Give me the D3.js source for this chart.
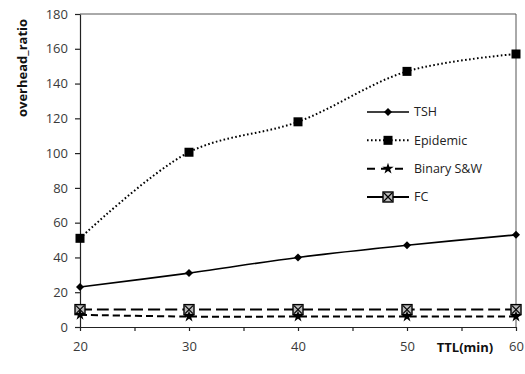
<!DOCTYPE html>
<html lang="en">
<head>
  <meta charset="UTF-8">
  <title>overhead_ratio vs TTL</title>
  <style>
    body { margin: 0; background: #fff; }
    svg { display: block; }
    .tick text { font-family: "Open Sans", sans-serif; font-size: 13px; fill: #3a3a3a; }
    .axis-title { font-family: "Open Sans", sans-serif; font-size: 13px; font-weight: bold; fill: #111; }
    .legend text { font-family: "Open Sans", sans-serif; font-size: 12.5px; fill: #222; }
  </style>
  <script src="https://d3js.org/d3.v7.min.js"></script>
</head>
<body>
  <svg width="525" height="374"></svg>
  <script>
    const ttl = [20, 30, 40, 50, 60];
    const tsh = [23, 31, 40, 47, 53];
    const epidemic = [51, 100.5, 118, 147, 157];
    const binarySW = [7, 6, 6, 6, 6];
    const fc = [10, 10, 10, 10, 10];
    const yTicks = [0, 20, 40, 60, 80, 100, 120, 140, 160, 180];
    const xTicks = [20, 30, 40, 50, 60];

    const series = [
      {name: "TSH", values: tsh, dash: null, legendDash: null, width: 1.6, marker: "diamond"},
      {name: "Epidemic", values: epidemic, dash: "1.6,2.4", legendDash: "1.6,2.4", width: 2, marker: "square"},
      {name: "Binary S&W", values: binarySW, dash: "7,4", legendDash: "8,6", width: 2, marker: "star"},
      {name: "FC", values: fc, dash: "12,5", legendDash: null, width: 2, marker: "xbox"}
    ];

    const margin = {top: 14, right: 9, bottom: 47, left: 80};
    const width = 525, height = 374;

    const svg = d3.select("svg");

    const x = d3.scaleLinear().domain([20, 60]).range([margin.left, width - margin.right]);
    const y = d3.scaleLinear().domain([0, 180]).range([height - margin.bottom, margin.top]);

    // frame (top + right)
    svg.append("path")
      .attr("d", `M${x(20)},${y(180)}H${x(60)}V${y(0)}`)
      .attr("fill", "none")
      .attr("stroke", "#555")
      .attr("stroke-width", 1);

    const xAxis = svg.append("g")
      .attr("transform", `translate(0,${y(0)})`)
      .call(d3.axisBottom(x).tickValues(d3.range(20, 61, 5)).tickSize(4).tickSizeOuter(0)
        .tickFormat(d => xTicks.includes(d) ? d : ""));
    xAxis.select(".domain").attr("stroke", "#222").attr("stroke-width", 1.2);
    xAxis.selectAll(".tick line").attr("stroke", "#222").attr("stroke-width", 1.2);
    xAxis.selectAll(".tick text").attr("dy", "1.3em");

    const yAxis = svg.append("g")
      .attr("transform", `translate(${x(20)},0)`)
      .call(d3.axisLeft(y).tickValues(yTicks).tickSize(5).tickSizeOuter(0));
    yAxis.select(".domain").attr("stroke", "#222").attr("stroke-width", 1.2);
    yAxis.selectAll(".tick line").attr("stroke", "#222").attr("stroke-width", 1.2);
    yAxis.selectAll(".tick text").attr("x", -12);

    svg.append("text")
      .attr("class", "axis-title")
      .attr("transform", `translate(27,68) rotate(-90)`)
      .attr("text-anchor", "middle")
      .text("overhead_ratio");

    svg.append("text")
      .attr("class", "axis-title")
      .attr("x", 465)
      .attr("y", 352)
      .attr("text-anchor", "middle")
      .text("TTL(min)");

    const line = d3.line()
      .x((d, i) => x(ttl[i]))
      .y(d => y(d))
      .curve(d3.curveCatmullRom.alpha(0.5));

    function drawMarker(g, kind, cx, cy) {
      if (kind === "diamond") {
        g.append("path").attr("d", `M${cx},${cy - 4}L${cx + 4},${cy}L${cx},${cy + 4}L${cx - 4},${cy}Z`)
          .attr("fill", "#000");
      } else if (kind === "square") {
        g.append("rect").attr("x", cx - 4.5).attr("y", cy - 4.5).attr("width", 9).attr("height", 9)
          .attr("fill", "#000");
      } else if (kind === "star") {
        g.append("path").attr("d", d3.symbol(d3.symbolStar, 40)()).attr("transform", `translate(${cx},${cy})`)
          .attr("fill", "#000");
      } else if (kind === "xbox") {
        g.append("rect").attr("x", cx - 5).attr("y", cy - 5).attr("width", 10).attr("height", 10)
          .attr("fill", "#bbb").attr("stroke", "#000").attr("stroke-width", 1.4);
        g.append("path").attr("d", `M${cx - 4},${cy - 4}L${cx + 4},${cy + 4}M${cx + 4},${cy - 4}L${cx - 4},${cy + 4}`)
          .attr("stroke", "#000").attr("stroke-width", 1.2);
      }
    }

    const plot = svg.append("g");
    // draw back to front: FC and Binary below
    [...series].reverse().forEach(s => {
      plot.append("path")
        .attr("d", line(s.values))
        .attr("fill", "none")
        .attr("stroke", "#000")
        .attr("stroke-width", s.width)
        .attr("stroke-dasharray", s.dash);
      const mg = plot.append("g");
      s.values.forEach((v, i) => drawMarker(mg, s.marker, x(ttl[i]), y(v)));
    });

    const legend = svg.append("g").attr("class", "legend");
    const legendY = d3.scalePoint().domain(series.map(s => s.name)).range([112, 197]);
    series.forEach(s => {
      const ly = legendY(s.name);
      legend.append("line")
        .attr("x1", 367).attr("x2", 409).attr("y1", ly).attr("y2", ly)
        .attr("stroke", "#000").attr("stroke-width", s.width)
        .attr("stroke-dasharray", s.legendDash);
      drawMarker(legend, s.marker, 388, ly);
      legend.append("text").attr("x", 414).attr("y", ly).attr("dy", "0.35em").text(s.name);
    });
  </script>
</body>
</html>
